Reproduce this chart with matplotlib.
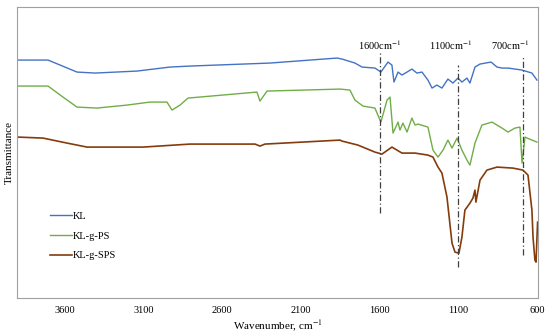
import matplotlib.pyplot as plt

# wavenumber (cm-1) and transmittance (arbitrary units, curves offset)
kl_wn = [3899, 3708, 3524, 3409, 3142, 2933, 2806, 2297, 1871, 1839, 1757, 1712, 1630,
         1592, 1547, 1522, 1509, 1483, 1458, 1426, 1395, 1363, 1331, 1293, 1267, 1236,
         1204, 1166, 1134, 1102, 1077, 1045, 1026, 994, 962, 892, 854, 822, 784, 695,
         632, 600]
kl_t = [238, 238, 226, 225, 227, 231, 232, 235, 240, 239, 235, 231, 230,
        226, 236, 233, 216, 226, 223, 226, 229, 225, 226, 218, 210, 213,
        210, 219, 215, 220, 216, 220, 215, 231, 234, 236, 231, 230, 230, 228,
        225, 218]

ps_wn = [3899, 3708, 3613, 3524, 3397, 3206, 3060, 2952, 2920, 2869, 2818, 2380, 2361,
         2316, 1852, 1789, 1757, 1706, 1630, 1592, 1553, 1534, 1515, 1483, 1471, 1452,
         1426, 1395, 1375, 1356, 1293, 1261, 1229, 1197, 1166, 1140, 1108, 1077, 1045,
         1026, 994, 950, 886, 822, 784, 740, 708, 695, 676, 632, 600]
ps_t = [212, 212, 201, 191, 190, 193, 196, 196, 188, 193, 200, 206, 197,
        207, 209, 208, 198, 192, 190, 176, 198, 201, 165, 176, 168, 175,
        166, 180, 173, 174, 171, 148, 141, 148, 158, 150, 160, 148, 138,
        133, 155, 173, 176, 170, 166, 170, 171, 135, 161, 158, 156]

sps_wn = [3899, 3740, 3587, 3460, 3104, 2806, 2392, 2361, 2329, 1852, 1839, 1738, 1630,
          1585, 1522, 1458, 1375, 1293, 1261, 1229, 1204, 1172, 1140, 1121, 1096, 1077,
          1058, 1026, 1007, 994, 988, 962, 918, 854, 753, 689, 657, 632, 625, 613,
          606, 596]
sps_t = [161, 160, 155, 151, 151, 154, 154, 152, 154, 158, 157, 153, 146,
         144, 151, 145, 145, 143, 141, 131, 125, 101, 55, 46, 45, 61,
         88, 95, 100, 108, 96, 118, 128, 131, 130, 128, 123, 88, 61, 38,
         36, 76]

peak_wn = [1600, 1105, 690]
peak_lo = [85, 31, 43]
peak_hi = [246, 233, 241]
peak_labels = ['1600cm$^{-1}$', '1100cm$^{-1}$', '700cm$^{-1}$']
peak_label_wn = [1600, 1147, 772]

xticks = [3600, 3100, 2600, 2100, 1600, 1100, 600]

plt.rcParams['font.family'] = ['Liberation Serif', 'DejaVu Serif']
plt.rcParams['mathtext.fontset'] = 'stix'

fig = plt.figure(figsize=(5.5, 3.35), dpi=100)
ax = fig.add_axes([0.031, 0.110, 0.947, 0.869])

ax.plot(kl_wn, kl_t, color='#4472C4', lw=1.0, label='KL')
ax.plot(ps_wn, ps_t, color='#70AD47', lw=1.0, label='KL-g-PS')
ax.plot(sps_wn, sps_t, color='#843C0C', lw=1.2, label='KL-g-SPS')

for w, lo, hi in zip(peak_wn, peak_lo, peak_hi):
    ax.plot([w, w], [lo, hi], color='#404040', lw=0.9, ls=(0, (5, 2, 1, 2)))
for w, lab in zip(peak_label_wn, peak_labels):
    ax.text(w, 253, lab, ha='center', va='center', fontsize=7.5)

ax.set_xlim(3905, 594)
ax.set_ylim(0, 291)
ax.set_xticks(xticks)
ax.set_yticks([])
ax.tick_params(axis='x', length=0, labelsize=7.5, pad=6)
ax.set_xlabel('Wavenumber, cm$^{-1}$', fontsize=8)
ax.xaxis.set_label_coords(0.5, -0.07)
ax.set_ylabel('Transmittance', fontsize=8, labelpad=2)
for s in ax.spines.values():
    s.set_color('#A0A0A0')
    s.set_linewidth(0.8)

ax.legend(frameon=False, loc='center left', bbox_to_anchor=(0.063, 0.213),
          borderpad=0, borderaxespad=0, handlelength=2.1, handletextpad=0.1,
          labelspacing=1.0, fontsize=7.5)

fig.savefig('out.png', dpi=100)
